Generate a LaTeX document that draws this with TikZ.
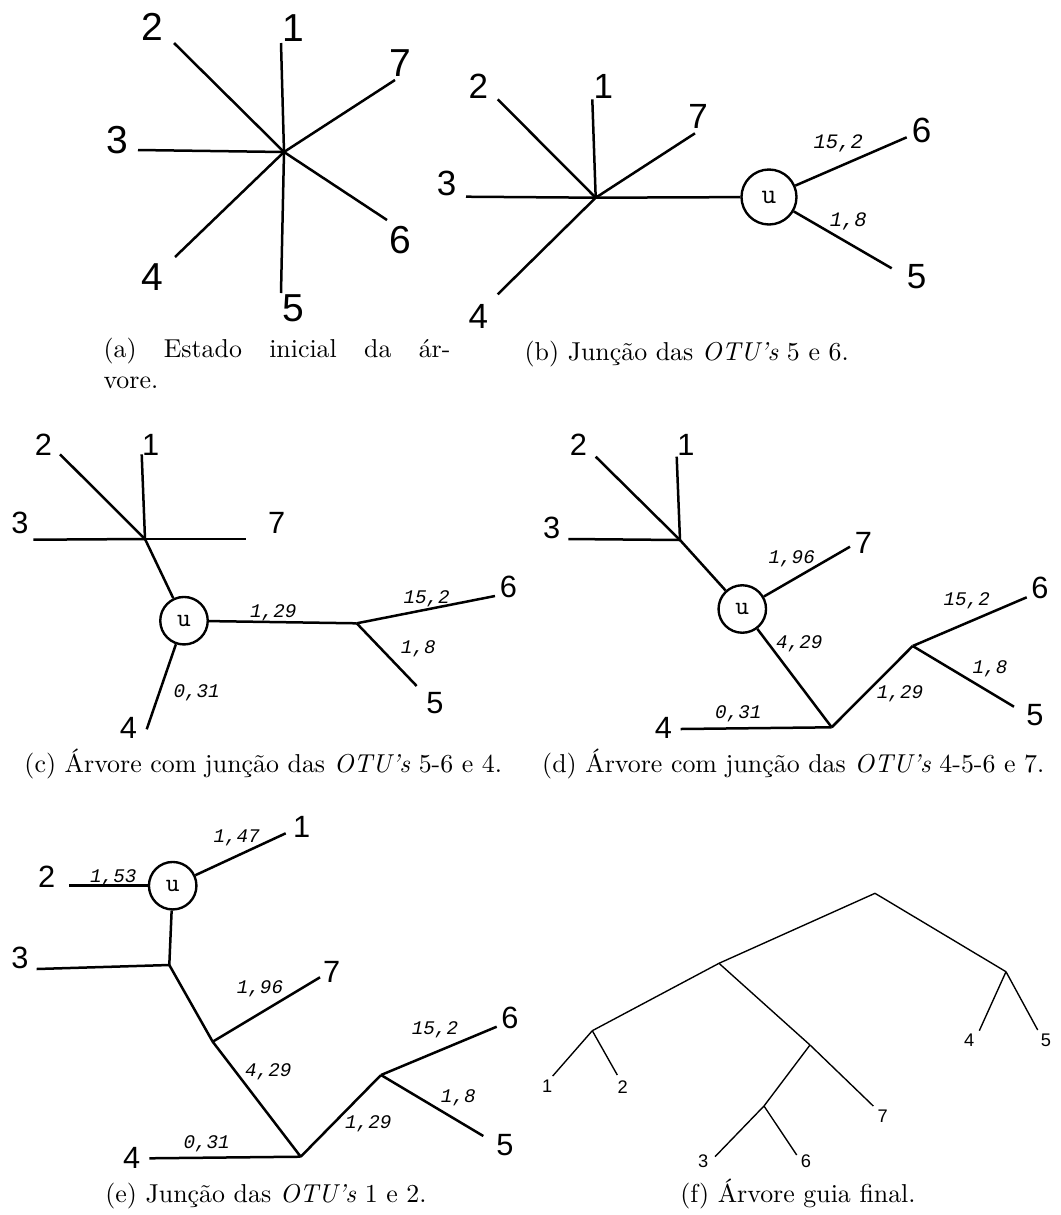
\documentclass[tikz,border=0pt]{standalone}
\usepackage{fontspec}
\setmainfont{Latin Modern Roman}
\setmonofont{Latin Modern Mono}
\newfontfamily\digf{Liberation Sans}
\newfontfamily\monof{Liberation Mono}
\begin{document}
\begin{tikzpicture}[x=0.4pt,y=-0.4pt,
  br/.style={line width=1pt},
  fb/.style={line width=0.55pt},
  dA/.style={inner sep=0pt,font=\digf\fontsize{15.6}{16}\selectfont},
  dB/.style={inner sep=0pt,font=\digf\fontsize{14}{15}\selectfont},
  dC/.style={inner sep=0pt,font=\digf\fontsize{12.3}{13}\selectfont},
  dF/.style={inner sep=0pt,font=\digf\fontsize{7.3}{8}\selectfont},
  ew/.style={inner sep=0pt,font=\monof\itshape\fontsize{7.7}{8}\selectfont},
  ewB/.style={inner sep=0pt,font=\monof\itshape\fontsize{8.2}{9}\selectfont},
  unode/.style={circle,draw,line width=0.95pt,inner sep=0pt,minimum size=19pt,font=\ttfamily\fontsize{10.4}{11}\selectfont},
  capt/.style={inner sep=0pt,anchor=base,font=\fontsize{10.35}{12.4}\selectfont}]
\useasboundingbox (0,0) rectangle (1061,1215);

% ---------------- (a)
\coordinate (a0) at (284,152);
\coordinate (a1) at (281,43);
\coordinate (a2) at (174,43);
\coordinate (a3) at (138,150);
\coordinate (a4) at (175,257);
\coordinate (a5) at (281,293);
\coordinate (a6) at (387,220);
\coordinate (a7) at (395,80);
\foreach \k in {1,...,7} {\draw[br] (a0) -- (a\k);}
\node[dA] (la2) at (152,27) {2};
\node[dA] (la1) at (293,28) {1};
\node[dA] (la3) at (117,140) {3};
\node[dA] (la6) at (400,240) {6};
\node[dA] (la4) at (152,277) {4};
\node[dA] (la5) at (293,308) {5};
\node[dA] (la7) at (400,63) {7};
\node[capt,anchor=base west] (capa1) at (103,357) {\makebox[138.8pt]{(a)\hfill Estado\hfill inicial\hfill da\hfill ár-}};
\node[capt,anchor=base west] (capa2) at (103,388) {vore.};

% ---------------- (b)
\coordinate (b0) at (595.7,197.7);
\coordinate (b1) at (592.3,99.3);
\coordinate (b2) at (497.7,99.3);
\coordinate (b3) at (466,196.7);
\coordinate (b4) at (497.7,294.3);
\coordinate (b7) at (695,133.3);
\coordinate (b6) at (906.7,137.3);
\coordinate (b5) at (891.7,268.3);
\node[unode,minimum size=22pt,font=\ttfamily\fontsize{11.4}{12}\selectfont] (bu) at (769,197) {u};
\foreach \k in {1,2,3,4,7} {\draw[br] (b0) -- (b\k);}
\draw[br] (b0) -- (bu);
\draw[br] (bu) -- (b6);
\draw[br] (bu) -- (b5);
\node[dB] (lb6) at (921.7,130) {6};
\node[dB] (lb5) at (916.7,276.7) {5};
\node[dB] (lb7) at (698,116.7) {7};
\node[dB] (lb1) at (603.3,86.7) {1};
\node[dB] (lb2) at (478.3,86.7) {2};
\node[dB] (lb3) at (446.7,183.3) {3};
\node[dB] (lb4) at (478.3,316.7) {4};
\node[ewB] (eb6) at (838.3,143.3) {15,2};
\node[ewB] (eb5) at (848.3,221.7) {1,8};
\node[capt] (capb) at (686.7,360) {(b) Junção das \textit{OTU’s} 5 e 6.};

% ---------------- (c)
\coordinate (c0) at (145,539);
\coordinate (c1) at (141.7,454.3);
\coordinate (c2) at (60,454.3);
\coordinate (c3) at (33.3,539.7);
\coordinate (c7) at (246,539);
\coordinate (c4) at (146.7,729.3);
\coordinate (cj) at (356.7,623.3);
\coordinate (c6) at (495,596);
\coordinate (c5) at (416.7,686);
\node[unode] (cu) at (184,620.7) {u};
\foreach \k in {1,2,3,7} {\draw[br] (c0) -- (c\k);}
\draw[br] (c0) -- (cu);
\draw[br] (cu) -- (c4);
\draw[br] (cu) -- (cj);
\draw[br] (cj) -- (c6);
\draw[br] (cj) -- (c5);
\node[dC] (lc2) at (43.3,445) {2};
\node[dC] (lc1) at (150.7,445) {1};
\node[dC] (lc3) at (20,523.3) {3};
\node[dC] (lc7) at (276.7,523.3) {7};
\node[dC] (lc6) at (508.3,586.7) {6};
\node[dC] (lc5) at (435,703.3) {5};
\node[dC] (lc4) at (128.3,728.3) {4};
\node[ew] (ec1) at (273.3,612.7) {1,29};
\node[ew] (ec6) at (426.7,598.3) {15,2};
\node[ew] (ec5) at (418.3,648.3) {1,8};
\node[ew] (ec4) at (196.7,692.7) {0,31};
\node[capt] (capc) at (263.3,772) {(c) Árvore com junção das \textit{OTU’s} 5-6 e 4.};

% ---------------- (d)
\coordinate (d0) at (680,540);
\coordinate (d2) at (595.7,456.7);
\coordinate (d1) at (676.7,456.7);
\coordinate (d3) at (568.3,539);
\coordinate (d7) at (850,546.7);
\coordinate (dj) at (831.7,727.3);
\coordinate (d4) at (680.7,729);
\coordinate (dk) at (912.7,646);
\coordinate (d6) at (1026.7,597.3);
\coordinate (d5) at (1014,706.7);
\node[unode] (du) at (742.3,609) {u};
\foreach \k in {1,2,3} {\draw[br] (d0) -- (d\k);}
\draw[br] (d0) -- (du);
\draw[br] (du) -- (d7);
\draw[br] (du) -- (dj);
\draw[br] (dj) -- (d4);
\draw[br] (dj) -- (dk);
\draw[br] (dk) -- (d6);
\draw[br] (dk) -- (d5);
\node[dC] (ld2) at (578.3,445) {2};
\node[dC] (ld1) at (686,445) {1};
\node[dC] (ld3) at (551.7,528.3) {3};
\node[dC] (ld7) at (863.3,543.3) {7};
\node[dC] (ld6) at (1040,588.3) {6};
\node[dC] (ld5) at (1035,715) {5};
\node[dC] (ld4) at (663.3,728.3) {4};
\node[ew] (ed7) at (791.7,558.3) {1,96};
\node[ew] (edj) at (799.3,643.3) {4,29};
\node[ew] (ed6) at (966.7,600.7) {15,2};
\node[ew] (ed5) at (990,668.3) {1,8};
\node[ew] (edk) at (900,694) {1,29};
\node[ew] (ed4) at (738.3,713.3) {0,31};
\node[capt] (capd) at (793.3,772) {(d) Árvore com junção das \textit{OTU’s} 4-5-6 e 7.};

% ---------------- (e)
\coordinate (e2) at (69.3,885.7);
\coordinate (e1) at (285.7,833.3);
\coordinate (ej) at (169.3,965);
\coordinate (e3) at (36.7,969);
\coordinate (ek) at (212.7,1041.7);
\coordinate (e7) at (320,977.3);
\coordinate (el) at (300.7,1156.7);
\coordinate (e4) at (149.3,1158.3);
\coordinate (em) at (381,1075);
\coordinate (e6) at (496.7,1026.7);
\coordinate (e5) at (483.3,1136);
\node[unode] (eu) at (172.7,885.7) {u};
\draw[br] (e2) -- (eu);
\draw[br] (eu) -- (e1);
\draw[br] (eu) -- (ej);
\draw[br] (ej) -- (e3);
\draw[br] (ej) -- (ek);
\draw[br] (ek) -- (e7);
\draw[br] (ek) -- (el);
\draw[br] (el) -- (e4);
\draw[br] (el) -- (em);
\draw[br] (em) -- (e6);
\draw[br] (em) -- (e5);
\node[dC] (le1) at (301.7,826.7) {1};
\node[dC] (le2) at (46.7,876.7) {2};
\node[dC] (le3) at (20,958.3) {3};
\node[dC] (le7) at (331.7,971.7) {7};
\node[dC] (le6) at (510,1018.3) {6};
\node[dC] (le5) at (505,1145) {5};
\node[dC] (le4) at (131.7,1158.3) {4};
\node[ew] (ee1) at (236.7,838.3) {1,47};
\node[ew] (ee2) at (113.3,877.7) {1,53};
\node[ew] (ee7) at (260,988.3) {1,96};
\node[ew] (eek) at (268.3,1071.7) {4,29};
\node[ew] (ee6) at (435,1030) {15,2};
\node[ew] (ee5) at (458.3,1097.7) {1,8};
\node[ew] (eem) at (368.3,1123.3) {1,29};
\node[ew] (ee4) at (206.7,1143.3) {0,31};
\node[capt] (cape) at (266,1202) {(e) Junção das \textit{OTU’s} 1 e 2.};

% ---------------- (f)
\coordinate (fR) at (875,893.3);
\coordinate (fA) at (719,963.3);
\coordinate (fB) at (1006,971.7);
\coordinate (fC) at (592.3,1030.7);
\coordinate (fD) at (810,1045);
\coordinate (fE) at (764,1106);
\coordinate (f1) at (552.7,1076);
\coordinate (f2) at (617.3,1075);
\coordinate (f7) at (873.3,1106);
\coordinate (f3) at (715,1156.7);
\coordinate (f6) at (796.7,1155);
\coordinate (f4) at (979.3,1030.7);
\coordinate (f5) at (1037.7,1030);
\draw[fb] (fR) -- (fA);
\draw[fb] (fR) -- (fB);
\draw[fb] (fA) -- (fC);
\draw[fb] (fA) -- (fD);
\draw[fb] (fC) -- (f1);
\draw[fb] (fC) -- (f2);
\draw[fb] (fD) -- (fE);
\draw[fb] (fD) -- (f7);
\draw[fb] (fE) -- (f3);
\draw[fb] (fE) -- (f6);
\draw[fb] (fB) -- (f4);
\draw[fb] (fB) -- (f5);
\node[dF] (lf1) at (547.3,1086.7) {1};
\node[dF] (lf2) at (622.7,1086.7) {2};
\node[dF] (lf7) at (882.7,1116.7) {7};
\node[dF] (lf3) at (703.3,1161.7) {3};
\node[dF] (lf6) at (806,1161.7) {6};
\node[dF] (lf4) at (969.3,1040.7) {4};
\node[dF] (lf5) at (1046,1040.7) {5};
\node[capt] (capf) at (798,1202) {(f) Árvore guia final.};
\end{tikzpicture}
\end{document}
